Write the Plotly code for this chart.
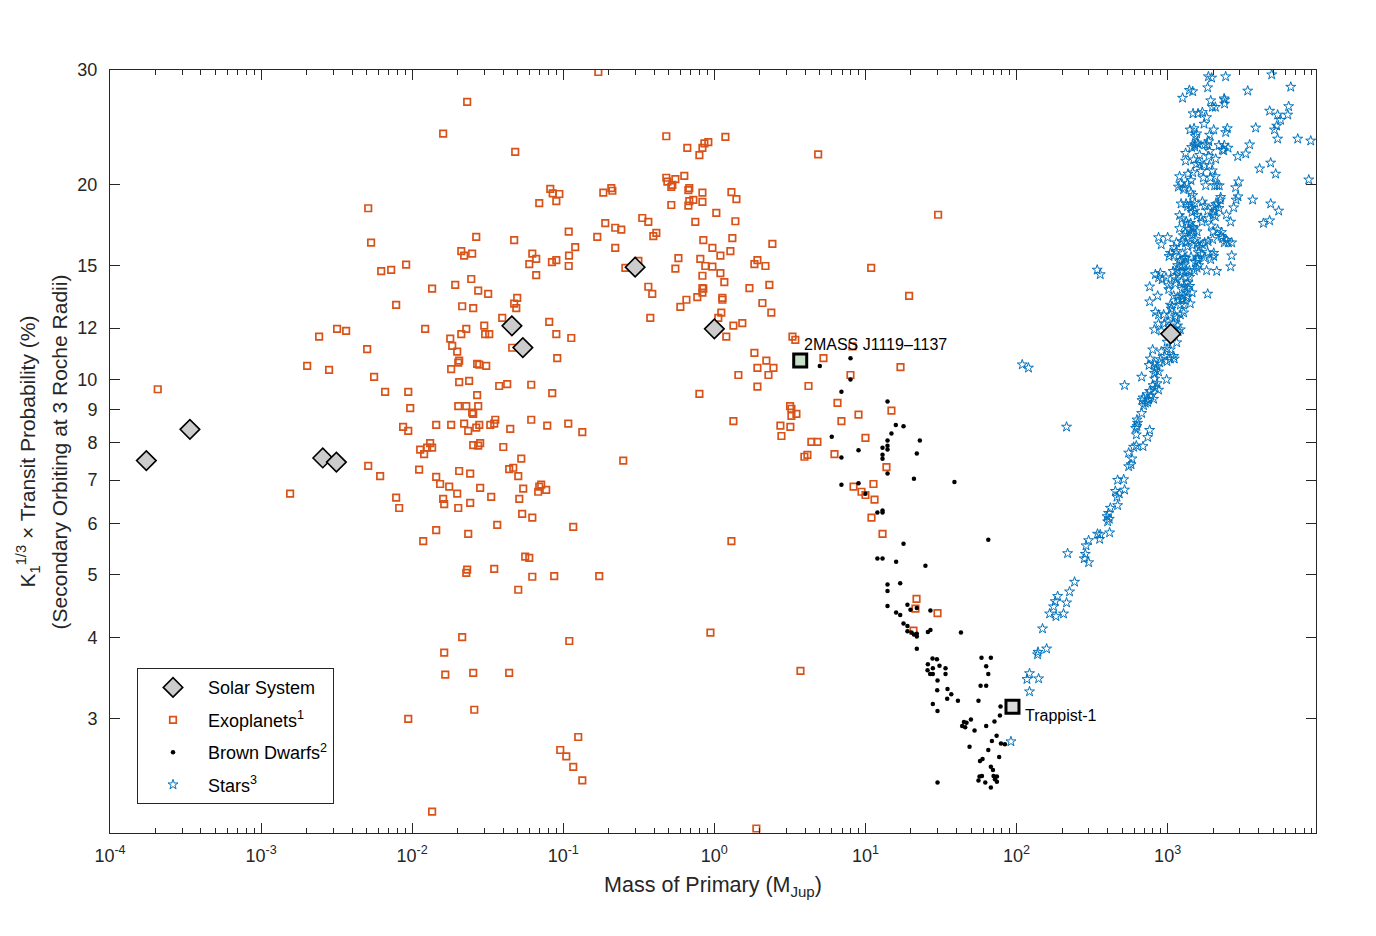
import numpy as np
import plotly.graph_objects as go

# values are log10(mass / M_Jup) and log10(K1^(1/3) x transit probability in %)

solar_names = ["Mercury", "Mars", "Venus", "Earth", "Uranus", "Neptune", "Saturn", "Jupiter", "Sun"]
solar_mass = [0.000174, 0.000338, 0.00256, 0.00315, 0.0457, 0.0540, 0.299, 1.0, 1047.6]
solar_prob = [7.5, 8.38, 7.57, 7.46, 12.1, 11.2, 14.9, 11.97, 11.76]

exo_log_mass = [
    -1.636, -1.795, -1.318, -1.086, -1.070, -1.026, -1.046, -1.159, -2.291, -0.964,
    -2.272, -1.576, -1.325, -1.675, -1.656, -1.603, -1.205, -1.179, -1.225, -1.075,
    -1.046, -0.962, -0.964, -2.205, -2.139, -2.040, -1.179, -1.609, -1.715, -1.868,
    -1.563, -1.497, -1.305, -1.325, -1.311, -2.106, -1.669, -1.596, -1.404, -1.093,
    -2.497, -2.437, -2.616, -1.914, -1.642, -1.675, -1.523, -1.517, -1.490, -1.046,
    -1.748, -1.735, -1.702, -2.298, -1.338, -1.040, -2.695, -2.550, -1.689, -1.695,
    -1.570, -1.556, -1.510, -1.742, -2.252, -1.689, -1.623, -1.424, -1.371, -1.212,
    -2.179, -2.026, -1.073, -1.570, -2.013, -1.695, -1.642, -1.563, -1.603, -1.596,
    -2.060, -2.026, -1.841, -1.742, -1.656, -1.629, -1.576, -1.556, -1.483, -1.450,
    -1.457, -1.351, -1.212, -1.106, -0.967, -1.881, -1.947, -1.921, -1.901, -1.868,
    -1.596, -1.563, -1.550, -1.397, -1.278, -2.291, -2.212, -1.954, -1.841, -1.689,
    -1.616, -1.358, -1.331, -1.298, -2.808, -1.815, -1.755, -1.550, -1.702, -1.477,
    -1.265, -1.146, -1.159, -1.166, -1.113, -1.291, -2.106, -2.086, -1.795, -1.788,
    -1.695, -1.616, -1.272, -1.205, -1.437, -1.841, -1.629, -1.927, -1.252, -1.225,
    -1.636, -1.642, -1.457, -1.205, -1.060,
    -1.298, -1.669, -1.788, -1.781, -1.596, -1.358, -0.960, -1.589, -2.026, -1.020,
    -0.980, -1.868,
    -3.684,
    -0.768, -0.318, -0.179, -0.079, -0.066, -0.040, 0.073, -0.099, -0.318, -0.311,
    -0.258, -0.199, -0.278, -0.285, -0.166, -0.172, -0.682, -0.675, -0.735, -0.079,
    0.113, 0.146, -0.166, -0.139, -0.172, -0.079, -0.285, 0.013, -0.477, -0.437,
    -0.126, 0.139, -0.722, -0.656, -0.616, -0.775, -0.404, -0.384, -0.073, 0.119,
    0.384, -0.921, -0.656, -0.013, 0.106, 0.040, -0.238, -0.093, -0.060, -0.013,
    -0.258, -0.589, -0.503, 0.265, 0.285, 0.338, 0.040, -0.079, 0.066, -0.437,
    -0.411, 0.232, 0.364, -0.079, -0.073, -0.079, -0.113, -0.185, 0.053, 0.053,
    -0.225, 0.318, 0.377, 0.046, 0.026, -0.424,
    0.126, 0.185, 0.079, -0.947, 0.517, 0.536, 0.265, 0.344, 0.285, 0.391,
    0.358, 0.159, 0.285, 0.623, -0.099, 0.501, 0.510, 0.543, 0.510, 0.437,
    0.503, 0.444, 0.642, 0.682, 0.616, 0.596, 0.126, -0.874, -0.603, -0.934,
    0.113, -0.762,
    -0.026, 0.570, -0.901, -0.934, -0.874, 0.278,
    0.914, 0.722, 1.232, 0.901, 0.815, 1.172, 0.954, 0.841, 1.000, 0.795,
    1.139, 1.053, 0.921, 0.974, 1.000, 1.060, 1.040, 1.113,
    1.338, 1.331, 1.477, 1.318,
    0.687, 1.038, 1.289, 1.481,
]
exo_log_prob = [
    1.428, 1.379, 1.351, 1.294, 1.287, 1.286, 1.275, 1.272, 1.264, 1.228,
    1.211, 1.220, 1.215, 1.198, 1.191, 1.194, 1.194, 1.186, 1.178, 1.181,
    1.184, 1.191, 1.175, 1.167, 1.169, 1.177, 1.161, 1.155, 1.146, 1.140,
    1.137, 1.132, 1.126, 1.117, 1.110, 1.115, 1.113, 1.110, 1.095, 1.089,
    1.078, 1.075, 1.066, 1.078, 1.078, 1.070, 1.083, 1.070, 1.070, 1.070,
    1.063, 1.052, 1.043, 1.047, 1.049, 1.033, 1.021, 1.015, 1.029, 1.026,
    1.024, 1.023, 1.021, 1.016, 1.004, 0.996, 0.998, 0.990, 0.993, 0.992,
    0.981, 0.981, 0.979, 0.976, 0.956, 0.959, 0.959, 0.959, 0.949, 0.947,
    0.927, 0.921, 0.930, 0.930, 0.932, 0.921, 0.926, 0.930, 0.930, 0.938,
    0.932, 0.924, 0.938, 0.929, 0.932, 0.902, 0.892, 0.885, 0.895, 0.895,
    0.899, 0.898, 0.902, 0.896, 0.878, 0.867, 0.851, 0.861, 0.850, 0.859,
    0.855, 0.862, 0.864, 0.851, 0.824, 0.839, 0.835, 0.833, 0.824, 0.819,
    0.832, 0.838, 0.835, 0.827, 0.830, 0.816, 0.818, 0.802, 0.816, 0.808,
    0.802, 0.810, 0.793, 0.787, 0.776, 0.768, 0.762, 0.751, 0.727, 0.725,
    0.707, 0.702, 0.708, 0.696, 0.697,
    0.676, 0.603, 0.579, 0.545, 0.548, 0.548, 0.597, 0.491, 0.477, 0.429,
    0.419, 0.334,
    0.985,
    1.474, 1.375, 1.357, 1.357, 1.364, 1.366, 1.374, 1.346, 1.311, 1.305,
    1.309, 1.314, 1.300, 1.297, 1.295, 1.292, 1.295, 1.291, 1.288, 1.288,
    1.289, 1.278, 1.275, 1.277, 1.268, 1.274, 1.269, 1.257, 1.249, 1.243,
    1.243, 1.244, 1.241, 1.234, 1.231, 1.220, 1.221, 1.226, 1.215, 1.218,
    1.209, 1.204, 1.203, 1.203, 1.198, 1.191, 1.187, 1.186, 1.175, 1.174,
    1.171, 1.172, 1.183, 1.178, 1.184, 1.175, 1.164, 1.160, 1.150, 1.143,
    1.132, 1.141, 1.146, 1.141, 1.140, 1.134, 1.127, 1.123, 1.126, 1.123,
    1.112, 1.118, 1.103, 1.103, 1.095, 1.095,
    1.083, 1.087, 1.066, 1.064, 1.066, 1.061, 1.041, 1.029, 1.018, 1.018,
    1.007, 1.007, 0.989, 0.990, 0.978, 0.959, 0.955, 0.947, 0.944, 0.929,
    0.927, 0.913, 0.904, 0.904, 0.884, 0.881, 0.936, 0.919, 0.875, 0.773,
    0.751, 0.697,
    0.610, 0.551, 0.449, 0.403, 0.382, 0.308,
    1.051, 1.033, 1.019, 1.007, 0.964, 0.952, 0.946, 0.936, 0.910, 0.885,
    0.865, 0.839, 0.835, 0.827, 0.822, 0.815, 0.787, 0.762,
    0.662, 0.647, 0.640, 0.613,
    1.347, 1.172, 1.129, 1.254,
]

bd_log_mass = [
    0.698, 0.901, 0.901, 0.841, 1.146, 1.201, 1.252, 1.172, 0.777, 1.360,
    1.146, 1.113, 1.146, 1.146, 0.954, 1.340, 1.113, 1.113, 0.841, 1.146,
    1.321, 1.589, 0.841, 0.954, 1.000, 1.079, 1.113, 1.113, 1.252, 1.813,
    1.079, 1.113, 1.203, 1.397, 1.146, 1.230, 1.146, 1.146, 1.278, 1.298,
    1.340, 1.203, 1.230, 1.430, 1.252, 1.278, 1.278, 1.305, 1.340, 1.340,
    1.321, 1.413, 1.430, 1.632, 1.340, 1.444, 1.473, 1.413, 1.446, 1.490,
    1.530, 1.411, 1.428, 1.446, 1.530, 1.477, 1.475, 1.543, 1.568, 1.541,
    1.612, 1.446, 1.477, 1.768, 1.830, 1.799, 1.813, 1.762, 1.799, 1.748,
    1.894, 1.890, 1.854, 1.698, 1.652, 1.669, 1.640, 1.660, 1.722, 1.799,
    1.868, 1.837, 1.897, 1.923, 1.689, 1.813, 1.885, 1.775, 1.758, 1.830,
    1.844, 1.771, 1.755, 1.748, 1.848, 1.870, 1.857, 1.870, 1.793, 1.830, 1.477,
]
bd_log_prob = [
    1.021, 1.033, 1.000, 0.981, 0.966, 0.930, 0.928, 0.917, 0.912, 0.906,
    0.906, 0.895, 0.898, 0.892, 0.891, 0.886, 0.884, 0.878, 0.880, 0.855,
    0.847, 0.842, 0.838, 0.840, 0.824, 0.795, 0.798, 0.795, 0.747, 0.753,
    0.724, 0.724, 0.719, 0.713, 0.684, 0.686, 0.674, 0.651, 0.653, 0.645,
    0.648, 0.641, 0.637, 0.644, 0.624, 0.620, 0.612, 0.610, 0.608, 0.604,
    0.607, 0.611, 0.614, 0.610, 0.585, 0.570, 0.569, 0.561, 0.555, 0.559,
    0.555, 0.552, 0.546, 0.546, 0.546, 0.536, 0.521, 0.523, 0.515, 0.508,
    0.505, 0.500, 0.489, 0.571, 0.571, 0.558, 0.546, 0.528, 0.528, 0.505,
    0.496, 0.482, 0.473, 0.476, 0.472, 0.471, 0.466, 0.464, 0.459, 0.466,
    0.451, 0.443, 0.439, 0.438, 0.434, 0.429, 0.418, 0.415, 0.412, 0.403,
    0.398, 0.389, 0.388, 0.382, 0.389, 0.388, 0.384, 0.380, 0.379, 0.371, 0.379,
]

star_log_mass = [
    3.270, 3.291, 3.384, 3.689, 3.815, 3.144, 3.166, 3.265, 3.530, 3.099,
    3.285, 3.374, 3.377, 3.377, 3.296, 3.316, 3.801, 3.675, 3.728, 3.795,
    3.748, 3.168, 3.201, 3.230, 3.258, 3.241, 3.722, 3.707, 3.583, 3.148,
    3.175, 3.305, 3.395, 3.384, 3.192, 3.183, 3.278, 3.728, 3.861, 3.947,
    3.272, 3.261, 3.245, 3.192, 3.179, 3.201, 3.159, 3.179, 3.543, 3.340,
    3.375, 3.400, 3.362, 3.371, 3.278, 3.119, 3.212, 3.272, 3.318, 3.464,
    3.517, 3.119, 3.172, 3.190, 3.212, 3.243, 3.276, 3.296, 3.682, 3.609,
    3.715, 3.934, 3.079, 3.135, 3.166, 3.221, 3.236, 3.283, 3.316, 3.155,
    3.086, 3.132, 3.113, 3.071, 3.106, 3.252, 3.311, 3.327, 3.342, 3.470,
    3.450, 3.155,
    3.166, 3.351, 3.349, 3.466, 3.453, 3.563, 3.682, 3.735, 3.089, 3.122,
    3.132, 3.152, 3.179, 3.230, 3.245, 3.318, 3.331, 3.305, 3.340, 3.437,
    3.155, 3.179, 3.162, 3.265, 3.309, 3.301, 3.316, 3.389, 3.079, 3.095,
    3.195, 3.221, 3.228, 3.272, 3.417, 3.634, 3.675, 3.124, 3.132, 3.152,
    3.166, 3.142, 3.157, 3.195, 3.172, 3.079, 3.289, 3.301, 3.331, 3.356,
    3.104, 3.117, 3.139, 3.164, 2.940, 3.000, 2.958, 3.354, 3.364, 3.389,
    3.375, 3.402, 3.424, 3.298, 3.268, 3.245, 3.230, 3.058, 3.044, 3.058,
    3.018, 3.009, 3.042, 3.097, 3.119, 3.132, 3.164, 3.188, 3.195, 3.212,
    3.203, 3.223, 3.199, 3.243, 3.265, 3.305, 3.305, 3.285, 3.424, 3.099,
    3.111, 3.095, 3.119, 3.155, 3.079, 3.066, 3.095, 3.111, 3.124, 3.099,
    3.144, 3.177, 3.195, 3.205, 3.183, 3.199, 3.417, 3.258, 3.325, 2.534,
    2.554, 3.036, 3.062, 3.084, 2.919, 2.952, 2.940, 2.963, 2.989, 3.044,
    3.058, 3.051, 3.091, 3.122, 3.146, 3.132, 3.146, 3.132, 2.881, 3.007,
    3.007, 3.095, 3.111, 3.162, 2.934, 2.881, 3.265, 3.040, 3.066, 3.102,
    3.124, 3.095, 3.073, 3.132, 3.018, 3.029, 3.023, 3.084, 3.106, 3.150,
    2.919, 2.940, 2.974, 3.018, 3.051, 3.084, 3.106, 3.062,
    2.940, 2.978, 3.003, 3.040, 3.066, 3.084, 3.069, 2.912, 2.958, 2.996,
    3.060, 2.901, 2.958, 2.996, 3.018, 2.885, 2.952, 2.980, 2.996, 3.018,
    3.040, 3.044, 2.877, 2.912, 2.930, 2.947, 2.919, 2.940, 2.912, 2.828,
    2.914, 2.993, 2.715, 2.903, 2.930, 2.919, 2.940, 2.881, 2.864, 2.890,
    2.874, 2.837, 2.830, 2.852, 2.868, 2.907, 2.841, 2.828, 2.038, 2.079,
    2.797, 2.801, 2.788, 2.797, 2.881, 2.793, 2.868, 2.331, 2.775, 2.793,
    2.837, 2.742, 2.764, 2.742, 2.758, 2.669, 2.709, 2.654, 2.680, 2.715,
    2.665, 2.669, 2.621, 2.609, 2.599, 2.614, 2.603,
    2.536, 2.554, 2.616, 2.550, 2.477, 2.460, 2.338, 2.455, 2.448, 2.477,
    2.384, 2.351, 2.272, 2.256, 2.245, 2.331, 2.219, 2.261, 2.311, 2.172,
    2.142, 2.139, 2.199, 2.086, 2.069, 2.146, 2.086, 1.963,
]
star_log_prob = [
    1.467, 1.465, 1.467, 1.470, 1.451, 1.446, 1.444, 1.450, 1.445, 1.434,
    1.430, 1.433, 1.431, 1.425, 1.420, 1.420, 1.421, 1.414, 1.408, 1.408,
    1.400, 1.410, 1.410, 1.412, 1.404, 1.394, 1.391, 1.385, 1.388, 1.385,
    1.387, 1.385, 1.387, 1.381, 1.379, 1.375, 1.377, 1.371, 1.371, 1.368,
    1.367, 1.362, 1.362, 1.365, 1.362, 1.363, 1.358, 1.359, 1.362, 1.361,
    1.361, 1.357, 1.354, 1.353, 1.352, 1.349, 1.346, 1.344, 1.340, 1.344,
    1.348, 1.337, 1.339, 1.332, 1.334, 1.330, 1.330, 1.322, 1.334, 1.325,
    1.317, 1.308, 1.313, 1.317, 1.319, 1.321, 1.311, 1.311, 1.313, 1.307,
    1.302, 1.302, 1.296, 1.297, 1.293, 1.299, 1.299, 1.299, 1.299, 1.305,
    1.296, 1.288,
    1.284, 1.281, 1.277, 1.282, 1.277, 1.277, 1.271, 1.260, 1.271, 1.271,
    1.267, 1.270, 1.272, 1.274, 1.268, 1.270, 1.271, 1.266, 1.264, 1.265,
    1.264, 1.260, 1.258, 1.260, 1.259, 1.254, 1.251, 1.254, 1.253, 1.248,
    1.253, 1.249, 1.243, 1.248, 1.243, 1.241, 1.245, 1.243, 1.239, 1.241,
    1.235, 1.231, 1.228, 1.228, 1.233, 1.233, 1.237, 1.228, 1.231, 1.227,
    1.222, 1.226, 1.219, 1.223, 1.219, 1.219, 1.208, 1.221, 1.218, 1.215,
    1.211, 1.211, 1.211, 1.216, 1.213, 1.211, 1.208, 1.211, 1.204, 1.198,
    1.195, 1.190, 1.191, 1.213, 1.211, 1.205, 1.207, 1.216, 1.209, 1.204,
    1.196, 1.193, 1.187, 1.188, 1.196, 1.195, 1.190, 1.185, 1.191, 1.194,
    1.187, 1.184, 1.187, 1.189, 1.182, 1.176, 1.174, 1.177, 1.168, 1.167,
    1.168, 1.168, 1.172, 1.176, 1.181, 1.184, 1.174, 1.168, 1.167, 1.169,
    1.162, 1.167, 1.168, 1.165, 1.162, 1.164, 1.157, 1.154, 1.157, 1.158,
    1.154, 1.148, 1.151, 1.157, 1.158, 1.149, 1.144, 1.141, 1.143, 1.145,
    1.139, 1.139, 1.143, 1.134, 1.129, 1.120, 1.132, 1.129, 1.127, 1.129,
    1.126, 1.124, 1.123, 1.128, 1.115, 1.113, 1.109, 1.115, 1.115, 1.117,
    1.104, 1.100, 1.100, 1.099, 1.097, 1.100, 1.103, 1.095,
    1.086, 1.086, 1.089, 1.086, 1.083, 1.077, 1.074, 1.077, 1.075, 1.058,
    1.057, 1.046, 1.043, 1.047, 1.046, 1.032, 1.031, 1.036, 1.028, 1.032,
    1.036, 1.032, 1.022, 1.024, 1.020, 1.026, 1.015, 1.012, 1.010, 1.004,
    1.001, 1.000, 0.991, 0.991, 0.994, 0.987, 0.984, 0.982, 0.977, 0.975,
    0.969, 0.972, 0.968, 0.964, 0.965, 0.970, 0.960, 0.948, 1.023, 1.018,
    0.938, 0.933, 0.925, 0.928, 0.922, 0.915, 0.911, 0.927, 0.896, 0.898,
    0.897, 0.887, 0.878, 0.866, 0.869, 0.845, 0.846, 0.828, 0.824, 0.830,
    0.819, 0.806, 0.802, 0.794, 0.789, 0.785, 0.781,
    0.762, 0.761, 0.764, 0.754, 0.752, 0.744, 0.732, 0.731, 0.724, 0.718,
    0.688, 0.673, 0.666, 0.658, 0.650, 0.656, 0.639, 0.635, 0.639, 0.616,
    0.580, 0.576, 0.585, 0.547, 0.538, 0.539, 0.519, 0.442,
]

# labelled objects
named_labels = ["2MASS J1119\u20131137", "Trappist-1"]
named_mass = [3.7, 94.0]
named_prob = [10.7, 3.13]
named_fill = ["#c5e0c5", "#dcdcdc"]

x_tickvals = [1e-4, 1e-3, 1e-2, 1e-1, 1e0, 1e1, 1e2, 1e3]
x_ticktext = ["10<sup>-4</sup>", "10<sup>-3</sup>", "10<sup>-2</sup>", "10<sup>-1</sup>",
              "10<sup>0</sup>", "10<sup>1</sup>", "10<sup>2</sup>", "10<sup>3</sup>"]
y_tickvals = [3, 4, 5, 6, 7, 8, 9, 10, 12, 15, 20, 30]
y_title_lines = ["K<sub>1</sub><sup>1/3</sup> \u00d7 Transit Probability (%)",
                 "(Secondary Orbiting at 3 Roche Radii)"]

FONT = "Liberation Sans, Arial, Helvetica, sans-serif"
ORANGE = "#D95319"
BLUE = "#0072BD"
AXC = "#262626"

x_minor = [k * 10.0 ** e for e in range(-4, 4) for k in range(2, 10)]

fig = go.Figure()

fig.add_trace(go.Scatter(
    x=10 ** np.array(exo_log_mass), y=10 ** np.array(exo_log_prob),
    mode="markers", name="Exoplanets<sup>1</sup>", legendrank=2, legendgroup="b",
    marker=dict(symbol="square-open", size=6.5, color=ORANGE, line=dict(width=1.7, color=ORANGE)),
))
fig.add_trace(go.Scatter(
    x=10 ** np.array(bd_log_mass), y=10 ** np.array(bd_log_prob),
    mode="markers", name="Brown Dwarfs<sup>2</sup>", legendrank=3, legendgroup="c",
    marker=dict(symbol="circle", size=4.5, color="black"),
))
fig.add_trace(go.Scatter(
    x=10 ** np.array(star_log_mass), y=10 ** np.array(star_log_prob),
    mode="markers", name="Stars<sup>3</sup>", legendrank=4, legendgroup="d",
    marker=dict(symbol="star-open", size=7.5, color=BLUE, line=dict(width=1, color=BLUE)),
))
fig.add_trace(go.Scatter(
    x=solar_mass, y=solar_prob, text=solar_names, hoverinfo="text+x+y",
    mode="markers", name="Solar System", legendrank=1, legendgroup="a",
    marker=dict(symbol="diamond", size=15, color="#cccccc", line=dict(width=1.6, color="black")),
))
fig.add_trace(go.Scatter(
    x=named_mass, y=named_prob, text=named_labels, hoverinfo="text+x+y",
    mode="markers", showlegend=False,
    marker=dict(symbol="square", size=13, color=named_fill, line=dict(width=3, color="black")),
))

fig.add_annotation(x=np.log10(named_mass[0]), y=np.log10(named_prob[0]), text=named_labels[0],
                   showarrow=False, xanchor="left", yanchor="middle", xshift=2, yshift=16,
                   font=dict(size=16, color="black", family=FONT))
fig.add_annotation(x=np.log10(named_mass[1]), y=np.log10(named_prob[1]), text=named_labels[1],
                   showarrow=False, xanchor="left", yanchor="middle", xshift=11, yshift=-9,
                   font=dict(size=16, color="black", family=FONT))

# two-line y label, drawn as rotated text so the line gap matches
for line, xpos in zip(y_title_lines, [-0.068, -0.0415]):
    fig.add_annotation(xref="paper", yref="paper", x=xpos, y=0.5, text=line, textangle=-90,
                       showarrow=False, xanchor="center", yanchor="middle",
                       font=dict(size=21, color=AXC, family=FONT))

axis_common = dict(
    type="log", showline=True, linecolor=AXC, linewidth=1, mirror="ticks",
    ticks="inside", ticklen=10, tickcolor=AXC, tickwidth=1,
    showgrid=False, zeroline=False, tickfont=dict(size=18, color=AXC, family=FONT),
)

# page body has an 8 px margin, so the figure is a little smaller than the window
fig.update_layout(
    width=1360, height=920,
    paper_bgcolor="white", plot_bgcolor="white",
    margin=dict(l=102, r=52, t=62, b=95),
    font=dict(family=FONT, color=AXC),
    xaxis=dict(
        axis_common, range=[-4, 3.982], tickmode="array",
        tickvals=x_tickvals, ticktext=x_ticktext, ticklabelstandoff=6,
        minor=dict(tickmode="array", tickvals=x_minor, ticks="inside", ticklen=5,
                   tickcolor=AXC, showgrid=False),
        title=dict(text="Mass of Primary (M<sub>Jup</sub>)", font=dict(size=21.5, family=FONT), standoff=12),
    ),
    yaxis=dict(
        axis_common, range=[np.log10(2), np.log10(30)], tickmode="array",
        tickvals=y_tickvals, ticktext=[str(v) for v in y_tickvals], ticklabelstandoff=8,
    ),
    legend=dict(
        x=0.0224, y=0.216, xanchor="left", yanchor="top",
        bgcolor="white", bordercolor=AXC, borderwidth=1,
        font=dict(size=18, family=FONT, color="black"),
        tracegroupgap=6, traceorder="grouped", itemwidth=60,
    ),
    showlegend=True,
)

fig.write_html("out.html")
